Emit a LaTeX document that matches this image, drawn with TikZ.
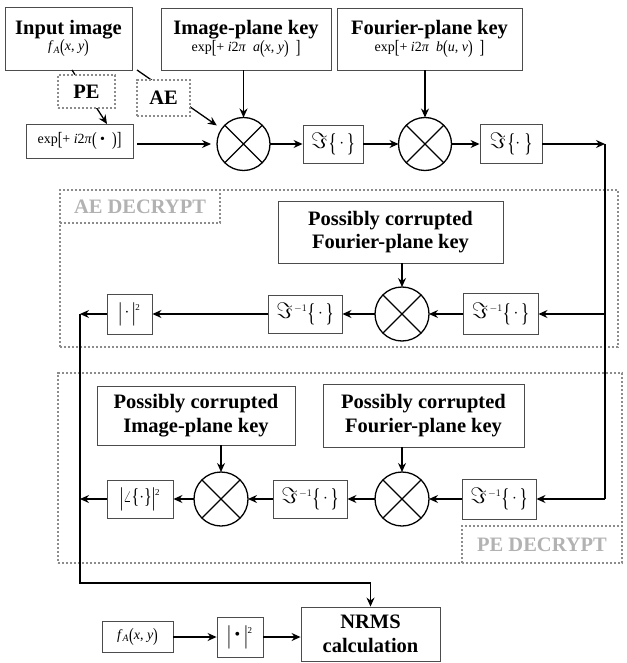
\documentclass[tikz,border=0pt]{standalone}
\usepackage{fontspec}
\setmainfont{Liberation Serif}
\usepackage{graphicx}
\usetikzlibrary{arrows.meta}

\tikzstyle{box}=[rectangle, draw=black!70, line width=0.9pt, fill=white, inner sep=0pt, align=center, anchor=center]
\tikzstyle{mult}=[circle, draw=black, line width=1.3pt, minimum size=54pt, inner sep=0pt, outer sep=0pt, fill=white]
\tikzstyle{dotbox}=[rectangle, draw=black!45, line width=2.6pt, dash pattern=on 2.4pt off 1.6pt, inner sep=0pt, align=center, anchor=center]
\tikzstyle{arr}=[line width=1.3pt, -{Stealth[length=9pt, width=8pt, inset=3pt]}]
\tikzstyle{wire}=[line width=1.3pt]

\newcommand{\keytitle}{\fontsize{20.5}{23.5}\selectfont\bfseries}
\newcommand{\keyform}{\fontsize{14}{16}\selectfont}
\newcommand{\opform}{\fontsize{16}{18}\selectfont}
\newcommand{\tallsym}[1]{\raisebox{-0.14em}{\scalebox{1}[1.35]{#1}}}
\newcommand{\bigsym}[1]{\raisebox{-0.22em}{\scalebox{1.05}[1.6]{#1}}}
\newcommand{\frak}{\raisebox{-0.05em}{\scalebox{1.3}{$\Im$}}\kern1.5pt}
\newcommand{\sqsup}{\textsuperscript{\fontsize{9}{9}\selectfont 2}}
\newcommand{\invsup}{\textsuperscript{\fontsize{10}{10}\selectfont $-1$}}

\begin{document}
\begin{tikzpicture}[x=1pt, y=-1pt]
	\fill[white] (0,0) rectangle (626,663);
	\useasboundingbox (0,0) rectangle (626,663);

	% decryption frames
	\node[dotbox, minimum width=558pt, minimum height=157pt] (aeframe) at (339,268.5){};
	\node[dotbox, minimum width=564pt, minimum height=190pt] (peframe) at (340,468){};
	\node[dotbox, minimum width=160pt, minimum height=33pt, text=black!30, font=\keytitle] (aelabel) at (140,206.5){AE DECRYPT};
	\node[dotbox, minimum width=160pt, minimum height=37pt, text=black!30, font=\keytitle] (pelabel) at (542,544.5){PE DECRYPT};

	% encryption
	\node[box, minimum width=127pt, minimum height=63pt] (input) at (68.5,38.5){{\keytitle Input image}\\{\keyform \textit{f}\textsubscript{\textit{A}}\tallsym{(}\textit{x}, \textit{y}\tallsym{)}}};
	\node[box, minimum width=170pt, minimum height=62pt] (ikey) at (246,39){{\keytitle Image-plane key}\\{\keyform exp\tallsym{[}+ \textit{i}2\textit{π}\ \ \textit{a}\tallsym{(}\textit{x}, \textit{y}\tallsym{)}\ \ \tallsym{]}}};
	\node[box, minimum width=185pt, minimum height=62pt] (fkey) at (429.5,39){{\keytitle Fourier-plane key}\\{\keyform exp\tallsym{[}+ \textit{i}2\textit{π}\ \ \textit{b}\tallsym{(}\textit{u}, \textit{v}\tallsym{)}\ \ \tallsym{]}}};
	\node[box, minimum width=107pt, minimum height=34pt] (expbox) at (79.5,141){\keyform exp\tallsym{[}+ \textit{i}2\textit{π}\tallsym{(}\ \textbullet\ \ \tallsym{)}\tallsym{]}};
	\node[mult, minimum size=53pt] (m1) at (243.5,144){};
	\node[box, minimum width=60pt, minimum height=38pt] (ft1) at (333,144){\opform\frak\bigsym{\{}\,$\cdot$\,\bigsym{\}}};
	\node[mult, minimum size=53pt] (m2) at (425,144){};
	\node[box, minimum width=62pt, minimum height=39pt] (ft2) at (511,144){\opform\frak\bigsym{\{}$\cdot$\ \bigsym{\}}};

	\coordinate (c1) at (605,144);
	\coordinate (c2) at (605,314);
	\coordinate (c3) at (605,499);
	\coordinate (l1) at (80,314);
	\coordinate (l2) at (80,499);
	\coordinate (l3) at (80,583);

	\coordinate (pesrc) at (72,70);
	\coordinate (petip) at (107,124);
	\coordinate (aesrc) at (137,70);
	\draw[arr] (pesrc) -- (petip);
	\draw[arr, shorten >=6pt] (aesrc) -- (m1);
	\node[dotbox, fill=white, minimum width=57pt, minimum height=33pt, font=\keytitle] (pe) at (86.5,91.5){PE};
	\node[dotbox, fill=white, minimum width=53pt, minimum height=36pt, font=\keytitle] (ae) at (163.5,98){AE};

	\draw[arr] (ikey.south -| m1) -- (m1);
	\draw[arr] (fkey.south -| m2) -- (m2);
	\draw[arr, shorten <=4pt, shorten >=6pt] (expbox.east |- m1) -- (m1);
	\draw[arr] (m1) -- (ft1);
	\draw[arr] (ft1) -- (m2);
	\draw[arr] (m2) -- (ft2);
	\draw[arr] (ft2) -- (c1);
	\draw[wire] (c1) -- (c3);

	% AE decryption
	\node[box, minimum width=225pt, minimum height=62pt, font=\keytitle] (aefkey) at (390.5,232){Possibly corrupted\\Fourier-plane key};
	\node[box, minimum width=75pt, minimum height=41pt] (aeinv1) at (500.5,314){\opform\frak\invsup\bigsym{\{}\,$\cdot$\,\bigsym{\}}};
	\node[mult] (am) at (402,314){};
	\node[box, minimum width=74pt, minimum height=38pt] (aeinv2) at (305,314){\opform\frak\invsup\bigsym{\{}\,$\cdot$\,\bigsym{\}}};
	\node[box, minimum width=45pt, minimum height=40pt] (aeabs) at (129.5,314){\opform\bigsym{|}\,$\cdot$\,\bigsym{|}\sqsup};

	\draw[arr] (am |- aefkey.south) -- (am);
	\draw[arr] (c2) -- (aeinv1);
	\draw[arr] (aeinv1) -- (am);
	\draw[arr] (am) -- (aeinv2);
	\draw[arr] (aeinv2) -- (aeabs);
	\draw[arr] (aeabs) -- (l1);

	% PE decryption
	\node[box, minimum width=198pt, minimum height=59pt, font=\keytitle] (peikey) at (196,415.5){Possibly corrupted\\Image-plane key};
	\node[box, minimum width=201pt, minimum height=63pt, font=\keytitle] (pefkey) at (423.5,415.5){Possibly corrupted\\Fourier-plane key};
	\node[box, minimum width=74pt, minimum height=40pt] (peinv1) at (499,499){\opform\frak\invsup\bigsym{\{}\,$\cdot$\,\bigsym{\}}};
	\node[mult] (pm2) at (402,499){};
	\node[box, minimum width=74pt, minimum height=38pt] (peinv2) at (310,499){\opform\frak\invsup\bigsym{\{}\,$\cdot$\,\bigsym{\}}};
	\node[mult] (pm1) at (221,499){};
	\node[box, minimum width=66pt, minimum height=38pt] (peang) at (140,499){\opform\bigsym{|}$\angle$\tallsym{\{}$\cdot$\tallsym{\}}\bigsym{|}\sqsup};

	\draw[arr] (pm1 |- peikey.south) -- (pm1);
	\draw[arr] (pm2 |- pefkey.south) -- (pm2);
	\draw[arr] (c3) -- (peinv1);
	\draw[arr] (peinv1) -- (pm2);
	\draw[arr] (pm2) -- (peinv2);
	\draw[arr] (peinv2) -- (pm1);
	\draw[arr] (pm1) -- (peang);
	\draw[arr] (peang) -- (l2);

	\foreach \m in {m1,m2,am,pm1,pm2}
		\draw[wire] (\m.north west) -- (\m.south east) (\m.north east) -- (\m.south west);

	% comparison
	\node[box, minimum width=71pt, minimum height=31pt] (fa) at (137.5,637){\keyform \textit{f}\textsubscript{\textit{A}}\tallsym{(}\textit{x}, \textit{y}\tallsym{)}};
	\node[box, minimum width=46pt, minimum height=40pt] (absb) at (240,637){\opform\bigsym{|}\ \textbullet\ \bigsym{|}\sqsup};
	\node[box, minimum width=139pt, minimum height=54pt, font=\keytitle] (nrms) at (370.5,634){NRMS\\calculation};

	\draw[arr] (fa) -- (absb);
	\draw[arr] (absb) -- (nrms.west |- absb);
	\draw[arr] (l1) -- (l3) -| (nrms.north);

\end{tikzpicture}
\end{document}
